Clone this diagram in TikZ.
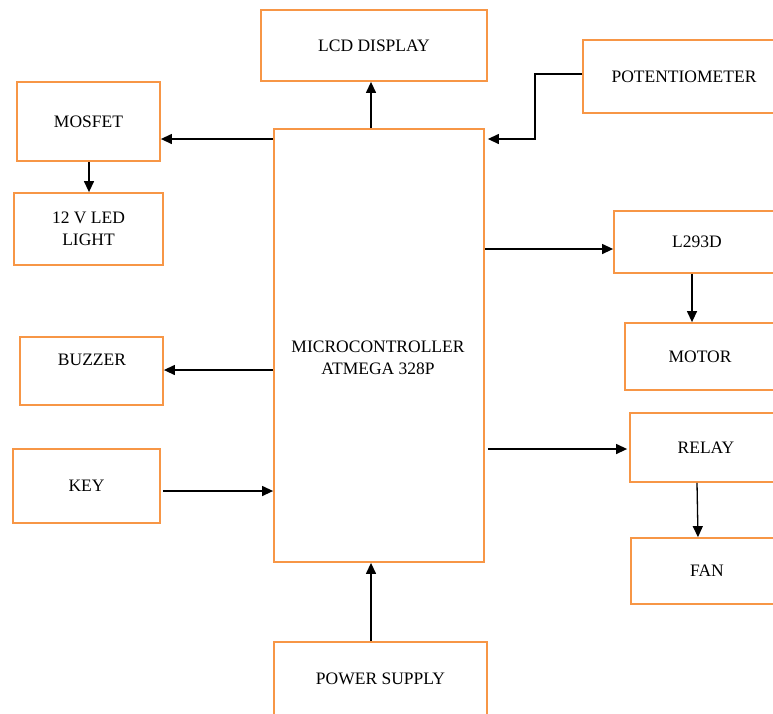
\documentclass[tikz,border=0pt]{standalone}
\usepackage{fontspec}
\setmainfont{Liberation Serif}
\usetikzlibrary{arrows.meta}
\definecolor{boxorange}{HTML}{F79646}
\tikzset{
  x=1pt, y=-1pt,
  blk/.style={draw=boxorange, line width=1.8pt, inner sep=0pt, rectangle,
    font=\fontsize{17.5}{22}\selectfont, align=center},
  lbl/.style={inner sep=0pt, font=\fontsize{17.5}{22}\selectfont, align=center},
  arr/.style={draw=black, line width=1.3pt, -{Triangle[length=11pt,width=10pt]}},
  wire/.style={draw=black, line width=1.3pt}
}
\begin{document}
\begin{tikzpicture}
\useasboundingbox (0,0) rectangle (773,713);
\clip (0,0) rectangle (773,713);
\node[blk, minimum width=226pt, minimum height=71pt] (lcd) at (374,45.5) {LCD DISPLAY};
\node[blk, minimum width=202pt, minimum height=73pt] (pot) at (684,76.5) {POTENTIOMETER};
\node[blk, minimum width=143pt, minimum height=79pt] (mosfet) at (88.5,121.5) {MOSFET};
\node[blk, minimum width=149pt, minimum height=72pt] (led) at (88.5,229) {12 V LED\\LIGHT};
\node[blk, minimum width=210pt, minimum height=433pt] (mcu) at (379,345.5) {};
\node[lbl] (mcutext) at (378,358) {MICROCONTROLLER\\ATMEGA 328P};
\node[blk, minimum width=166pt, minimum height=62pt] (l293d) at (697,242) {L293D};
\node[blk, minimum width=150pt, minimum height=67pt] (motor) at (700,356.5) {MOTOR};
\node[blk, minimum width=143pt, minimum height=68pt] (buzzer) at (91.5,371) {};
\node[lbl] (buzzertext) at (92,360) {BUZZER};
\node[blk, minimum width=147pt, minimum height=74pt] (key) at (86.5,486) {KEY};
\node[blk, minimum width=152pt, minimum height=69pt] (relay) at (706,447.5) {RELAY};
\node[blk, minimum width=152pt, minimum height=66pt] (fan) at (707,571) {FAN};
\node[blk, minimum width=213pt, minimum height=74pt] (power) at (380.5,679) {POWER SUPPLY};

% connectors
\draw[arr] ([xshift=-3pt]lcd.south |- mcu.north) -- ([xshift=-3pt]lcd.south);
\draw[arr] (mcu.west |- 0,139) -- ([yshift=-17.5pt]mosfet.east);
\draw[arr] ([xshift=0.5pt]mosfet.south) -- ([xshift=0.5pt]led.north);
\coordinate (potbend) at (535,139);
\draw[arr] ([yshift=2.5pt]pot.west) -| (potbend) -- ([xshift=3pt]mcu.east |- potbend);
\draw[arr] (mcu.east |- 0,249) -- ([yshift=-7pt]l293d.west);
\draw[arr] ([xshift=-5pt]l293d.south) -- ([xshift=-8pt]motor.north);
\draw[arr] (mcu.west |- 0,370) -- ([yshift=1pt]buzzer.east);
\draw[arr] ([xshift=2pt,yshift=-5pt]key.east) -- (mcu.west |- 0,491);
\draw[arr] ([xshift=3pt]mcu.east |- 0,449) -- ([xshift=-2pt,yshift=-1.5pt]relay.west);
\draw[arr] ([xshift=-9pt]relay.south) -- ([xshift=-9pt]fan.north);
\draw[arr] ([xshift=-9.5pt]power.north) -- ([xshift=-9.5pt]power.north |- mcu.south);
\end{tikzpicture}
\end{document}
